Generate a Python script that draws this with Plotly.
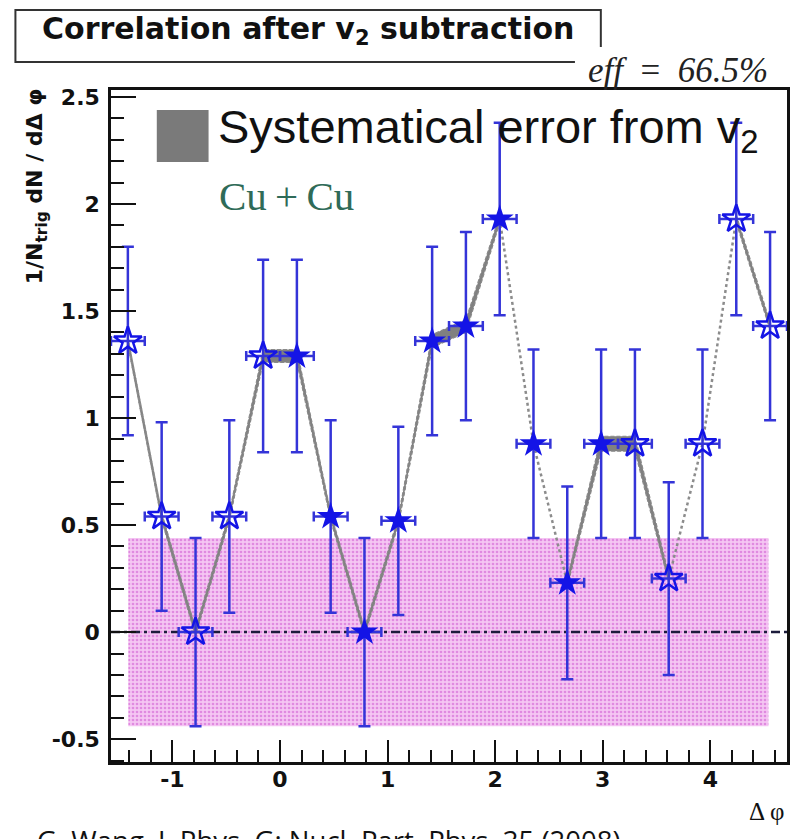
import plotly.graph_objects as go

# ---------------- data ----------------
# measured points (filled stars)
meas_x = [0.157, 0.471, 0.785, 1.100, 1.414, 1.728, 2.042, 2.356, 2.670, 2.985]
meas_y = [1.29, 0.54, 0.00, 0.52, 1.36, 1.43, 1.93, 0.88, 0.23, 0.88]
meas_err = [0.45, 0.45, 0.44, 0.44, 0.44, 0.44, 0.45, 0.44, 0.45, 0.44]
# reflected points (open stars)
refl_x = [-1.414, -1.100, -0.785, -0.471, -0.157, 3.299, 3.613, 3.927, 4.241, 4.555]
refl_y = [1.36, 0.54, 0.00, 0.54, 1.29, 0.88, 0.25, 0.88, 1.93, 1.43]
refl_err = [0.44, 0.44, 0.44, 0.45, 0.45, 0.44, 0.45, 0.44, 0.45, 0.44]
bin_half_width = [0.157] * 10
# systematic (v2) half-width, for the full sorted sequence of 20 points
sys_half = [0.018, 0.018, 0.018, 0.018, 0.03, 0.03, 0.018, 0.018, 0.018, 0.03,
            0.03, 0.018, 0.018, 0.018, 0.035, 0.035, 0.018, 0.018, 0.018, 0.018]
# index ranges (in the sorted sequence) where the systematic band is drawn
band_groups = [(0, 11), (13, 16), (18, 19)]
# flow-background (pink) band
pink_x = [-1.41, 4.54]
pink_y = [-0.44, 0.44]

y_tickvals = [-0.5, 0, 0.5, 1, 1.5, 2, 2.5]
y_ticktext = ["-0.5", "0", "0.5", "1", "1.5", "2", "2.5"]
x_tickvals = [-1, 0, 1, 2, 3, 4]
x_ticktext = ["-1", "0", "1", "2", "3", "4"]

# ---------------- layout geometry ----------------
W, H = 796, 839
ML, MR, MT, MB = 111, 6, 90, 77
PW, PH = W - ML - MR, H - MT - MB


def px(x):
    return (x - ML) / PW


def py(y):
    return (H - MB - y) / PH


BOLD = "DejaVu Sans"
SANS = "Liberation Sans"
SERIF = "Liberation Serif"
BLUE = "#1414e6"
ERRC = "#3434d8"

all_pts = sorted(zip(meas_x + refl_x, meas_y + refl_y))
ax = [p[0] for p in all_pts]
ay = [p[1] for p in all_pts]

fig = go.Figure()

# pink band
fig.add_trace(go.Scatter(
    x=[pink_x[0], pink_x[1], pink_x[1], pink_x[0], pink_x[0]],
    y=[pink_y[0], pink_y[0], pink_y[1], pink_y[1], pink_y[0]],
    mode="lines", fill="toself", fillcolor="#f3c2f1",
    fillpattern=dict(shape=".", fgcolor="#e08ae0", bgcolor="#f5c6f3",
                     size=4, solidity=0.35, fillmode="replace"),
    line=dict(width=0), hoverinfo="skip", showlegend=False))

# zero line
fig.add_trace(go.Scatter(
    x=[-1.5708, 4.7124], y=[0, 0], mode="lines",
    line=dict(color="#1c1c3c", width=2.5, dash="9px,4px,3px,4px"),
    hoverinfo="skip", showlegend=False))

# dotted connecting line
fig.add_trace(go.Scatter(
    x=ax, y=ay, mode="lines",
    line=dict(color="#8c8c8c", width=2.5, dash="dot"),
    hoverinfo="skip", showlegend=False))

# systematic band
bx, by = [], []
for i0, i1 in band_groups:
    xs = ax[i0:i1 + 1]
    up = [ay[i] + sys_half[i] for i in range(i0, i1 + 1)]
    lo = [ay[i] - sys_half[i] for i in range(i0, i1 + 1)]
    bx += xs + xs[::-1] + [xs[0], None]
    by += up + lo[::-1] + [up[0], None]
fig.add_trace(go.Scatter(
    x=bx, y=by, mode="lines", fill="toself", fillcolor="#808080",
    line=dict(color="#8a8a8a", width=1.2, dash="4px,2px"),
    hoverinfo="skip", showlegend=False))

# measured points
fig.add_trace(go.Scatter(
    x=meas_x, y=meas_y, mode="markers",
    marker=dict(symbol="star", size=21, color=BLUE, line=dict(width=0)),
    error_y=dict(type="data", array=meas_err, color=ERRC, thickness=2.5, width=6),
    error_x=dict(type="data", array=bin_half_width, color=ERRC, thickness=2.5, width=5),
    showlegend=False))

# reflected points
fig.add_trace(go.Scatter(
    x=refl_x, y=refl_y, mode="markers",
    marker=dict(symbol="star-open", size=21, color=BLUE, line=dict(width=2.5, color=BLUE)),
    error_y=dict(type="data", array=refl_err, color=ERRC, thickness=2.5, width=6),
    error_x=dict(type="data", array=bin_half_width, color=ERRC, thickness=2.5, width=5),
    showlegend=False))

shapes = []
# title box (lower-right corner hidden by the eff text)
shapes.append(dict(
    type="path", xref="paper", yref="paper",
    path=f"M {px(577)} {py(62)} L {px(15)} {py(62)} L {px(15)} {py(10)} "
         f"L {px(603)} {py(10)} L {px(603)} {py(47)}",
    line=dict(color="#333333", width=2)))
# legend fill box
shapes.append(dict(
    type="rect", xref="paper", yref="paper",
    x0=px(157), x1=px(209), y0=py(162), y1=py(110),
    fillcolor="#7a7a7a", line=dict(width=0)))

annotations = [
    dict(text="<b>Correlation after v<sub>2</sub> subtraction</b>",
         x=px(309), y=py(31), xref="paper", yref="paper", showarrow=False,
         xanchor="center", yanchor="middle",
         font=dict(family=BOLD, size=30, color="#111111")),
    dict(text="<i>eff</i>\u2002=\u2002<i>66.5%</i>",
         x=px(681), y=py(70), xref="paper", yref="paper", showarrow=False,
         xanchor="center", yanchor="middle",
         font=dict(family=SERIF, size=35, color="#222222")),
    dict(text="Systematical error from v<sub>2</sub>",
         x=px(216), y=py(130), xref="paper", yref="paper", showarrow=False,
         xanchor="left", yanchor="middle",
         font=dict(family=SANS, size=47, color="#111111")),
    dict(text="Cu\u2009+\u2009Cu",
         x=px(217), y=py(196), xref="paper", yref="paper", showarrow=False,
         xanchor="left", yanchor="middle",
         font=dict(family=SERIF, size=41, color="#2f6b58")),
    dict(text="<b>1/N<sub>trig</sub> dN / dΔ φ</b>",
         x=px(36), y=py(86), xref="paper", yref="paper", showarrow=False,
         xanchor="center", yanchor="top", textangle=-90,
         font=dict(family=BOLD, size=22, color="#111111")),
    dict(text="G. Wang, J. Phys. G: Nucl. Part. Phys. 35 (2008)",
         x=px(35), y=py(840), xref="paper", yref="paper", showarrow=False,
         xanchor="left", yanchor="middle",
         font=dict(family="Open Sans", size=27.5, color="#111111")),
    dict(text="Δ φ",
         x=px(769), y=py(811), xref="paper", yref="paper", showarrow=False,
         xanchor="center", yanchor="middle",
         font=dict(family=SERIF, size=25, color="#111111")),
]

fig.update_layout(
    width=W, height=H,
    margin=dict(l=ML, r=MR, t=MT, b=MB),
    paper_bgcolor="white", plot_bgcolor="white",
    shapes=shapes, annotations=annotations,
    showlegend=False,
)
fig.update_xaxes(
    range=[-1.5708, 4.7124], showgrid=False, zeroline=False,
    showline=True, mirror=True, linecolor="#111111", linewidth=2.5,
    ticks="inside", ticklen=22, tickwidth=2, tickcolor="#111111",
    tickvals=x_tickvals, ticktext=x_ticktext, ticklabelstandoff=-4,
    tickfont=dict(family=BOLD, size=22, color="#111111", weight="bold"),
    minor=dict(ticks="inside", ticklen=12, tickwidth=2, tickcolor="#111111",
               dtick=0.2, tick0=0, showgrid=False),
)
fig.update_yaxes(
    range=[-0.607, 2.533], showgrid=False, zeroline=False,
    showline=True, mirror=True, linecolor="#111111", linewidth=2.5,
    ticks="inside", ticklen=25, tickwidth=2, tickcolor="#111111",
    tickvals=y_tickvals, ticktext=y_ticktext, ticklabelstandoff=4,
    tickfont=dict(family=BOLD, size=22, color="#111111", weight="bold"),
    minor=dict(ticks="inside", ticklen=13, tickwidth=2, tickcolor="#111111",
               dtick=0.1, tick0=0, showgrid=False),
)

fig.write_html("out.html")
